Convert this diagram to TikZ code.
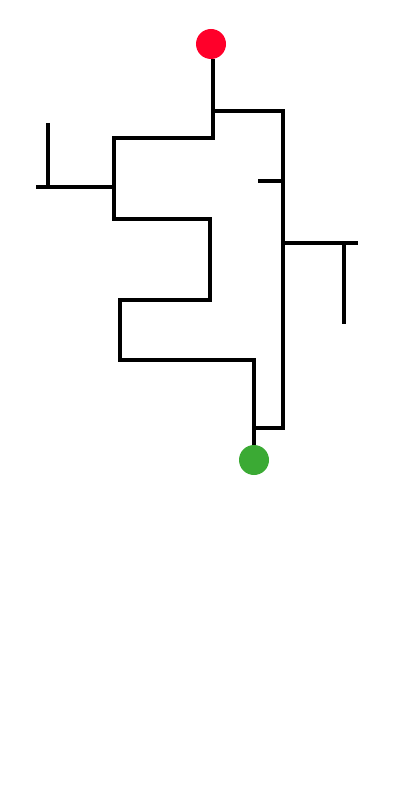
\documentclass[tikz,border=0pt]{standalone}
\usepackage{tikz}
\definecolor{startred}{RGB}{255,0,42}
\definecolor{endgreen}{RGB}{59,170,52}
\tikzset{wall/.style={line width=2.2pt, color=black}}

\begin{document}
\begin{tikzpicture}[x=0.025cm, y=-0.025cm]
			%%%%% START %%%%%
			\useasboundingbox (0, 0) rectangle (400, 800);
			
			\node[circle, fill=startred, minimum size=0.75cm, inner sep=0] (start) at (211, 44) {};
			\node[circle, fill=endgreen, minimum size=0.75cm, inner sep=0] (goal) at (254, 460) {};
			
			\draw[wall] (start.south -| 213, 0) -- (213, 138) -- (114, 138) -- (114, 219) -- (210, 219) -- (210, 300) -- (120, 300) -- (120, 360) -- (254, 360) -- (goal.north -| 254, 0);
			\draw[wall] (213, 111) -- (283, 111) -- (283, 428) -- (254, 428);
			
			\draw[wall] (36, 187) -- (114, 187);
			\draw[wall] (48, 123) -- (48, 187);
			
			\draw[wall] (258, 181) -- (283, 181);
			
			\draw[wall] (283, 243) -- (358, 243);
			\draw[wall] (344, 243) -- (344, 324);
			
			%%%%% END %%%%%
		\end{tikzpicture}
\end{document}
